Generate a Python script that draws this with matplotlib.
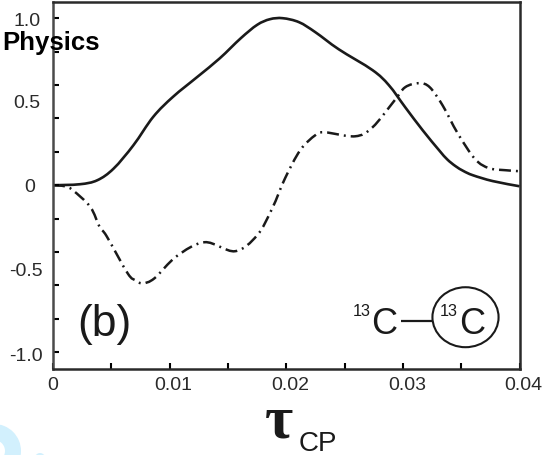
import matplotlib
matplotlib.use('Agg')
import matplotlib.pyplot as plt
from matplotlib.patches import Ellipse, Wedge, PathPatch
from matplotlib.path import Path
from matplotlib.transforms import ScaledTranslation

# Curvas
t_solid = [0, .0023, .0038, .0052, .0069, .0086, .0103, .0124, .0143, .0161, .0175, .0186, .0197,
           .0211, .0225, .0245, .0274, .0288, .0302, .0317, .0331, .0338, .0345, .0352, .036, .0377, .04]
cp_solid = [0, .006, .03, .10, .24, .41, .53, .65, .76, .88, .96, .994, 1.0,
            .976, .916, .814, .689, .599, .467, .329, .21, .155, .115, .085, .06, .025, -.006]

t_dash = [0, .0010, .0017, .0032, .004, .0046, .0064, .0071, .0077, .0087, .0106, .0130, .0156, .0175,
          .0188, .0199, .0212, .0225, .0233, .0259, .0274, .0293, .0302, .0314, .0323, .0334, .0347,
          .0362, .0374, .0388, .04]
cp_dash = [0, -.006, -.03, -.13, -.25, -.305, -.527, -.57, -.587, -.557, -.425, -.341, -.395, -.30,
           -.138, .042, .21, .30, .317, .293, .347, .509, .587, .611, .587, .479, .311,
           .156, .102, .09, .084]

x_major = [0, .005, .01, .015, .02, .025, .03, .035, .04]
x_labels = ['0', '', '0.01', '', '0.02', '', '0.03', '', '0.04']
y_ticks = [-1.0, -.8, -.6, -.4, -.2, 0, .2, .4, .6, .8, 1.0]
y_text = [-1.0, -.5, 0, .5, 1.0]
y_labels = ['-1.0', '-0.5', '0', '0.5', '1.0']

plt.rcParams['font.family'] = ['Liberation Sans', 'DejaVu Sans']
plt.rcParams['lines.scale_dashes'] = False

W, H = 544, 455
TINTA = '#1a1a1a'


# Curva suave que pasa por los puntos leidos
def suave(xs, ys):
    pts = list(zip(xs, ys))
    verts = [pts[0]]
    codes = [Path.MOVETO]
    for i in range(len(pts) - 1):
        p0 = pts[max(i - 1, 0)]
        p1 = pts[i]
        p2 = pts[i + 1]
        p3 = pts[min(i + 2, len(pts) - 1)]
        verts.append((p1[0] + (p2[0] - p0[0]) / 6, p1[1] + (p2[1] - p0[1]) / 6))
        verts.append((p2[0] - (p3[0] - p1[0]) / 6, p2[1] - (p3[1] - p1[1]) / 6))
        verts.append(p2)
        codes += [Path.CURVE4] * 3
    return Path(verts, codes)


fig = plt.figure(figsize=(W / 100, H / 100), dpi=100)
ax = fig.add_axes([53 / W, 1 - 369 / H, 466.5 / W, 367.5 / H])

ax.add_patch(PathPatch(suave(t_solid, cp_solid), fc='none', ec=TINTA, lw=1.9, capstyle='butt'))
ax.add_patch(PathPatch(suave(t_dash, cp_dash), fc='none', ec=TINTA, lw=1.8, capstyle='butt',
                       linestyle=(0, (8.6, 3.6, 1.4, 3.6))))

ax.set_xlim(0, .04)
ax.set_ylim(-1.1, 1.1)
ax.set_xticks(x_major)
ax.set_xticklabels(x_labels, fontsize=14, color='#2a2a2a')
ax.set_yticks(y_ticks)
ax.set_yticklabels([])
ax.yaxis.remove_overlapping_locs = False
ax.set_yticks(y_text, labels=y_labels, minor=True)
ax.tick_params(axis='x', direction='in', length=4, width=1.5, pad=6)
ax.tick_params(axis='y', which='major', direction='in', length=4, width=1.5)
ax.tick_params(axis='y', which='minor', length=0, pad=9, labelsize=14, labelcolor='#2a2a2a')
for s in ax.spines.values():
    s.set_linewidth(1.8)
    s.set_color('#2a2a2a')
ax.spines['left'].set_color('#4a4a4a')

# Las etiquetas del original no estan centradas en sus marcas
for lab, dx in zip(ax.get_xticklabels(), [0, 0, 4, 0, 4, 0, 4, 0, 4]):
    lab.set_transform(lab.get_transform() + ScaledTranslation(dx / 100, 0, fig.dpi_scale_trans))
for lab, dx, dy in zip(ax.get_yticklabels(minor=True), [2, 2, -5, 0, 0], [-2, -1, 0, 0, -1]):
    lab.set_transform(lab.get_transform() + ScaledTranslation(dx / 100, dy / 100, fig.dpi_scale_trans))

# Texto
fig.text(2 / W, 1 - 50 / H, 'Physics', fontsize=18.5, fontweight='bold', color='black', zorder=10)
ax.text(.0021, -.90, '(b)', fontsize=32, color=TINTA)
fig.text(265 / W, 1 - 438 / H, '\u03c4', fontsize=44, color=TINTA, family='Liberation Serif', fontweight='bold')
fig.text(299 / W, 1 - 451 / H, 'CP', fontsize=20, color=TINTA)

# Esquema 13C-13C
ax.text(.0257, -.784, '13', fontsize=11.7, color=TINTA)
ax.text(.0273, -.892, 'C', fontsize=26, color=TINTA)
ax.text(.0332, -.784, '13', fontsize=11.7, color=TINTA)
ax.text(.0348, -.892, 'C', fontsize=26, color=TINTA)
ax.plot([.0298, .0325], [-.81, -.81], color=TINTA, lw=1.6, solid_capstyle='butt')
ax.add_patch(Ellipse((.03537, -.79), .00567, .359, fc='none', ec=TINTA, lw=1.5))

# Marca de agua
bg = fig.add_axes([0, 0, 1, 1], zorder=-1)
bg.set_xlim(0, W)
bg.set_ylim(H, 0)
bg.axis('off')
bg.add_patch(Wedge((-6, 451), 27, 0, 360, width=16, fc='#d2f0fd', ec='none'))
bg.add_patch(Wedge((40, 458), 5, 0, 360, fc='#d2f0fd', ec='none'))

fig.savefig('out.png', dpi=100)
